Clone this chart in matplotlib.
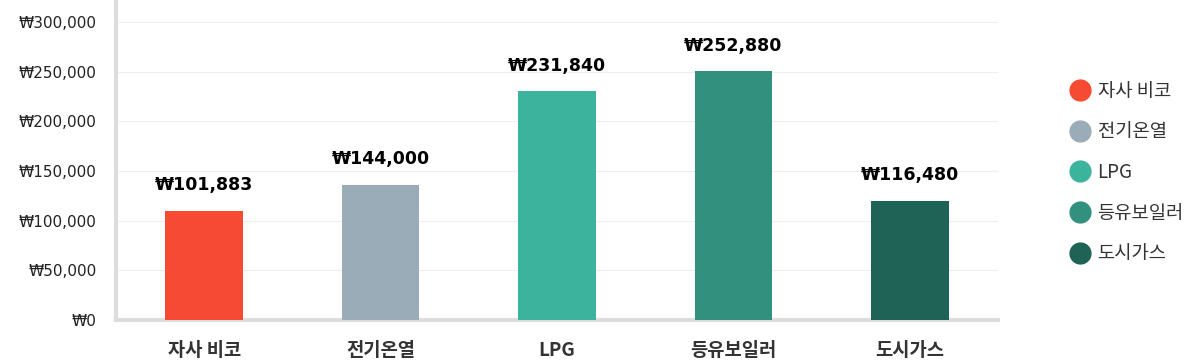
import matplotlib
matplotlib.use("Agg")
import matplotlib.pyplot as plt
from matplotlib.lines import Line2D

plt.rcParams['font.family'] = ['Noto Sans CJK KR', 'DejaVu Sans']

categories = ['자사 비코', '전기온열', 'LPG', '등유보일러', '도시가스']
bar_values = [110000, 136000, 230200, 250500, 120100]
value_labels = ['₩101,883', '₩144,000', '₩231,840', '₩252,880', '₩116,480']
colors = ['#F64A33', '#9AACB8', '#3CB49D', '#32907F', '#1E6356']
yticks = [0, 50000, 100000, 150000, 200000, 250000, 300000]

fig = plt.figure(figsize=(12, 3.62), dpi=100)
ax = fig.add_axes([116 / 1200, 1 - 320 / 362, (998 - 116) / 1200, 320 / 362])

x = range(len(categories))
ax.bar(x, bar_values, width=0.44, color=colors, zorder=3)
ax.set_xlim(-0.5, len(categories) - 0.5)
ax.set_ylim(0, 300000 * 320 / 298)

for i, v in enumerate(bar_values):
    ax.annotate(value_labels[i], (i, v), xytext=(0, 12), textcoords='offset points',
                ha='center', va='bottom', fontsize=12.5, fontweight='bold', color='black',
                family=['DejaVu Sans'])

ax.set_yticks(yticks)
ax.set_yticklabels(['₩{:,}'.format(t) for t in yticks], fontsize=11, color='#222222',
                   family=['DejaVu Sans'])
ax.set_xticks(list(x))
ax.set_xticklabels(categories, fontsize=13.5, fontweight='bold', color='#333333')
ax.tick_params(axis='both', length=0)
ax.tick_params(axis='y', pad=14)
ax.tick_params(axis='x', pad=15)

ax.grid(axis='y', color='#eeeeee', linewidth=0.8, zorder=0)
for s in ['top', 'right']:
    ax.spines[s].set_visible(False)
for s in ['left', 'bottom']:
    ax.spines[s].set_color('#dddddd')
    ax.spines[s].set_linewidth(3)

handles = [Line2D([], [], marker='o', linestyle='', markersize=15,
                  markerfacecolor=c, markeredgecolor=c) for c in colors]
leg = fig.legend(handles, categories, loc='upper left', bbox_to_anchor=(1061 / 1200, 1 - 73 / 362),
                 frameon=False, fontsize=13.5, labelspacing=1.05, handletextpad=0.35,
                 handlelength=1.2, borderaxespad=0)
for t in leg.get_texts():
    t.set_color('#333333')

fig.savefig('out.png', dpi=100)
